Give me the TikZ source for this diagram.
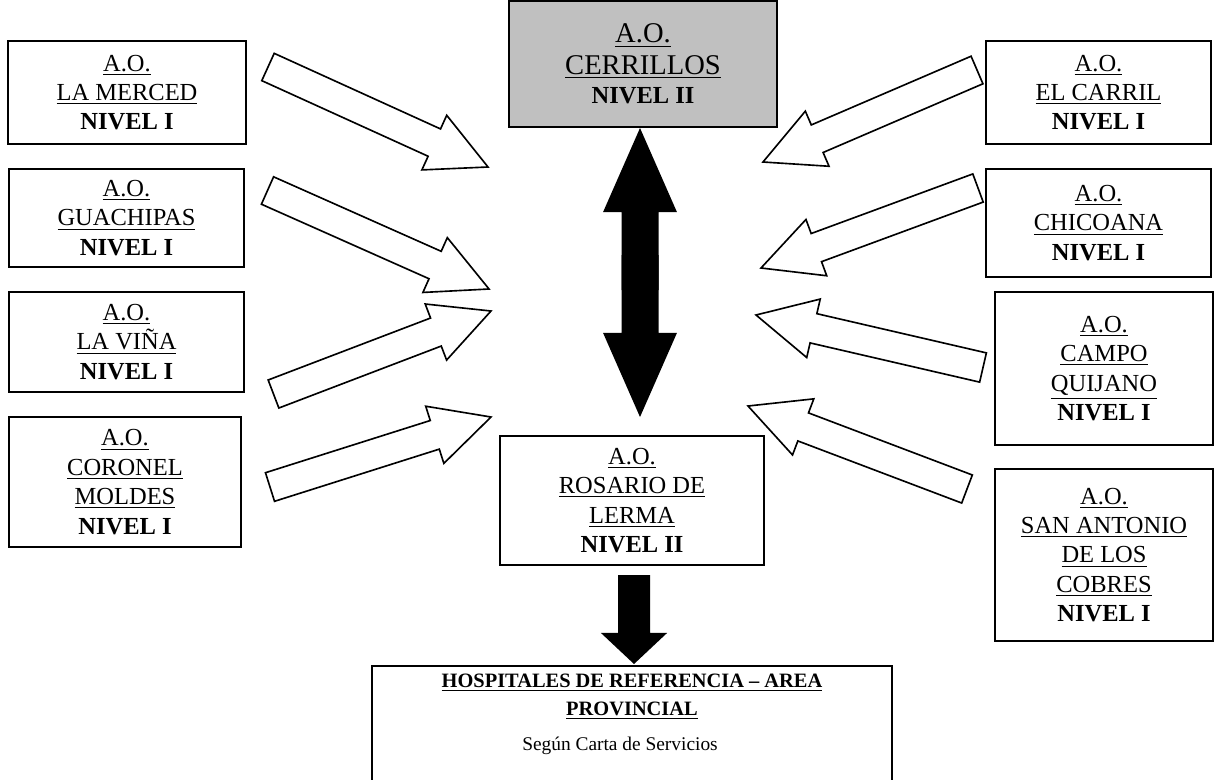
\documentclass[tikz,border=0pt]{standalone}
\usepackage{fontspec}
\setmainfont{Liberation Serif}
\usetikzlibrary{calc}
\definecolor{cerrgray}{RGB}{192,192,192}
\tikzset{box/.style={draw,line width=0.8pt,align=center,inner sep=0pt,font=\fontsize{12}{14.4}\selectfont},
  hollow/.style={draw,line width=0.8pt,fill=white,line join=miter},
  filled/.style={fill=black}}
% block arrow: tail, tip, half shaft, half head, head length
\newcommand{\blockarrow}[6][hollow]{%
  \path[#1] ($(#2)!#4!90:(#3)$) -- ($(#3)!#6!(#2)!#4!-90:(#2)$) -- ($(#3)!#6!(#2)!#5!-90:(#2)$)
    -- (#3) -- ($(#3)!#6!(#2)!#5!90:(#2)$) -- ($(#3)!#6!(#2)!#4!90:(#2)$) -- ($(#2)!#4!-90:(#3)$) -- cycle;}

\begin{document}
\begin{tikzpicture}[x=0.49pt,y=-0.49pt]
    \useasboundingbox (0,0) rectangle (1220,779);
    \clip (0,0) rectangle (1220,779);

    % left column
    \node[box,minimum width=116.6pt,minimum height=50.5pt] (merced) at (127,92.5) {\underline{A.O.}\\\underline{LA MERCED}\\\textbf{NIVEL I}};
    \node[box,minimum width=115.2pt,minimum height=48pt] (guachipas) at (126.5,218) {\underline{A.O.}\\\underline{GUACHIPAS}\\\textbf{NIVEL I}};
    \node[box,minimum width=115.2pt,minimum height=49pt] (vina) at (126.5,342) {\underline{A.O.}\\\underline{LA VIÑA}\\\textbf{NIVEL I}};
    \node[box,minimum width=113.7pt,minimum height=63.7pt] (moldes) at (125,482) {\underline{A.O.}\\\underline{CORONEL}\\\underline{MOLDES}\\\textbf{NIVEL I}};

    % centre
    \node[box,fill=cerrgray,minimum width=131.3pt,minimum height=61.7pt] (cerrillos) at (643,64) {{\fontsize{14}{16}\selectfont\underline{A.O.}}\\[1pt]{\fontsize{14}{16}\selectfont\underline{CERRILLOS}}\\\textbf{NIVEL II}};
    \node[box,minimum width=129.4pt,minimum height=63.2pt] (rosario) at (632,500.5) {\underline{A.O.}\\\underline{ROSARIO DE}\\\underline{LERMA}\\\textbf{NIVEL II}};
    \node[draw,line width=0.8pt,anchor=north,minimum width=254.8pt,minimum height=80pt] (hosp) at (632,665) {};
    \node[anchor=base,font=\fontsize{10}{12}\selectfont\bfseries] (hosptitle) at (632,687) {\underline{HOSPITALES DE REFERENCIA – AREA}};
    \node[anchor=base,font=\fontsize{10}{12}\selectfont\bfseries] (hospprov) at (632,715) {\underline{PROVINCIAL}};
    \node[anchor=base,font=\fontsize{9.5}{12}\selectfont] (hospnote) at (620,750) {Según Carta de Servicios};

    % right column
    \node[box,minimum width=110.3pt,minimum height=50.5pt] (carril) at (1098.5,92.5) {\underline{A.O.}\\\underline{EL CARRIL}\\\textbf{NIVEL I}};
    \node[box,minimum width=110.3pt,minimum height=52.9pt] (chicoana) at (1098.5,223) {\underline{A.O.}\\\underline{CHICOANA}\\\textbf{NIVEL I}};
    \node[box,minimum width=106.8pt,minimum height=75pt] (quijano) at (1104,368.5) {\underline{A.O.}\\\underline{CAMPO}\\\underline{QUIJANO}\\\textbf{NIVEL I}};
    \node[box,minimum width=106.8pt,minimum height=84.3pt] (cobres) at (1104,555) {\underline{A.O.}\\\underline{SAN ANTONIO}\\\underline{DE LOS}\\\underline{COBRES}\\\textbf{NIVEL I}};

    % hollow arrows
    \coordinate (tMerced) at (268,67);      \coordinate (hMerced) at (488,167);
    \coordinate (tGuachipas) at (267.5,190.5); \coordinate (hGuachipas) at (489,289);
    \coordinate (tVina) at (273.5,394);     \coordinate (hVina) at (491,311);
    \coordinate (tMoldes) at (270,487);     \coordinate (hMoldes) at (491,417);
    \coordinate (tCarril) at (977,70);      \coordinate (hCarril) at (763,162);
    \coordinate (tChicoana) at (978,188);   \coordinate (hChicoana) at (761,268);
    \coordinate (tQuijano) at (983,367.5);  \coordinate (hQuijano) at (756,315);
    \coordinate (tCobres) at (967,489);     \coordinate (hCobres) at (748,406);
    \foreach \n in {Merced,Guachipas,Vina,Moldes,Carril,Chicoana,Quijano,Cobres}
        \blockarrow{t\n}{h\n}{7.35pt}{14.7pt}{28.9pt};

    % black arrows
    \coordinate (dup) at (640,290);  \coordinate (dtop) at (640,128);
    \coordinate (ddown) at (640,255); \coordinate (dbot) at (640,417);
    \blockarrow[filled]{dup}{dtop}{9.07pt}{18.1pt}{41.2pt}
    \blockarrow[filled]{ddown}{dbot}{9.07pt}{18.1pt}{41.2pt}
    \coordinate (rtail) at (634,575); \coordinate (rtip) at (634,664);
    \blockarrow[filled]{rtail}{rtip}{7.84pt}{16.2pt}{15.2pt}
\end{tikzpicture}
\end{document}
